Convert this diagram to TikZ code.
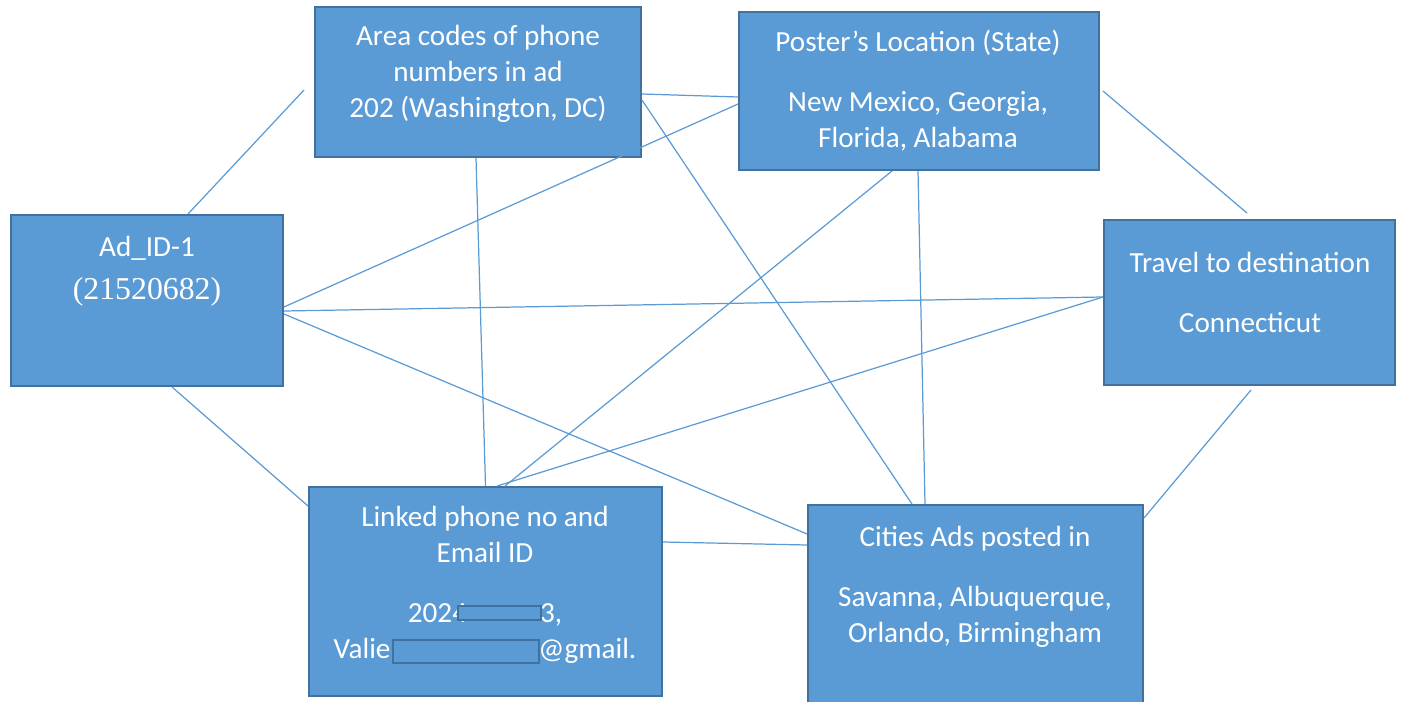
\documentclass[tikz,border=0pt]{standalone}
\usepackage{fontspec}
\setmainfont{Carlito}
\newfontfamily\timesfont{Liberation Serif}
\usepackage{tikz}

\definecolor{boxfill}{HTML}{5B9BD5}
\definecolor{boxline}{HTML}{41719C}

\begin{document}
\begin{tikzpicture}[
    box/.style={draw=boxline,line width=1.1pt,fill=boxfill,rectangle,inner sep=0pt},
    txt/.style={text=white,align=center,inner sep=0pt,font=\fontsize{16.6pt}{20.5pt}\selectfont},
    link/.style={draw=boxfill,line width=0.7pt},
    hide/.style={draw=boxline,line width=1.1pt,fill=boxfill,inner sep=0pt}
  ]
      \useasboundingbox (0,0) rectangle (28.04,-14.04);
      \clip (0,0) rectangle (28.04,-14.04);
      \node[box,minimum width=6.52cm,minimum height=3.0cm] (area) at (9.56,-1.64) {};
      \node[box,minimum width=7.2cm,minimum height=3.16cm] (poster) at (18.38,-1.82) {};
      \node[box,minimum width=5.44cm,minimum height=3.42cm] (ad) at (2.94,-6.01) {};
      \node[box,minimum width=5.82cm,minimum height=3.3cm] (travel) at (24.99,-6.05) {};
      \node[box,minimum width=7.06cm,minimum height=4.18cm] (linked) at (9.71,-11.83) {};
      \node[box,minimum width=6.7cm,minimum height=4.3cm] (cities) at (19.51,-12.25) {};
      \node[txt] (area-t) at (9.56,-1.48) {Area codes of phone\\numbers in ad\\202 (Washington, DC)};
      \node[txt] (poster-t) at (18.36,-1.82) {Poster’s Location (State)\\[0.48cm]New Mexico, Georgia,\\Florida, Alabama};
      \node[txt] (ad-t) at (2.94,-5.42) {Ad\_ID-1\\[0.14cm]{\timesfont\fontsize{18.1pt}{21pt}\selectfont(21520682)}};
      \node[txt] (travel-t) at (25.0,-5.85) {Travel to destination\\[0.48cm]Connecticut};
      \node[txt] (linked-t) at (9.70,-11.70) {Linked phone no and\\Email ID\\[0.48cm]2024\hspace{1.46cm}3,\\Valie\hspace{2.96cm}@gmail.};
      \node[txt] (cities-t) at (19.50,-11.74) {Cities Ads posted in\\[0.48cm]Savanna, Albuquerque,\\Orlando, Birmingham};
      \node[hide,minimum width=1.66cm,minimum height=0.28cm] (phone-hide) at (9.99,-12.26) {};
      \node[hide,minimum width=2.92cm,minimum height=0.46cm] (mail-hide) at (9.32,-13.03) {};
      \coordinate (area-w) at (6.08,-1.80);
      \draw[link] ([xshift=0.82cm]ad.north) -- (area-w);
      \draw[link] ([yshift=-0.13cm]ad.east) -- ([yshift=-0.26cm]poster.west);
      \draw[link] ([yshift=-0.21cm]ad.east) -- ([yshift=0.11cm]travel.west);
      \draw[link] ([yshift=-0.27cm]ad.east) -- ([yshift=1.57cm]cities.west);
      \draw[link] ([xshift=0.5cm]ad.south) -- ([yshift=1.71cm]linked.west);
      \draw[link] ([yshift=-0.24cm]area.east) -- ([yshift=-0.12cm]poster.west);
      \draw[link] ([yshift=-0.36cm]area.east) -- ([xshift=-1.27cm]cities.north);
      \draw[link] ([xshift=-0.04cm]area.south) -- (linked.north);
      \draw[link] ([xshift=-0.54cm]poster.south) -- ([xshift=0.39cm]linked.north);
      \draw[link] ([xshift=-0.02cm]poster.south) -- ([xshift=-1.01cm]cities.north);
      \draw[link] ([xshift=0.06cm]poster.east) -- ([xshift=-0.05cm,yshift=0.12cm]travel.north);
      \draw[link] ([yshift=0.11cm]travel.west) -- ([xshift=0.23cm]linked.north);
      \draw[link] ([xshift=0.03cm,yshift=-0.08cm]travel.south) -- ([yshift=1.89cm]cities.east);
      \draw[link] ([yshift=0.99cm]linked.east) -- ([yshift=1.35cm]cities.west);
\end{tikzpicture}
\end{document}
